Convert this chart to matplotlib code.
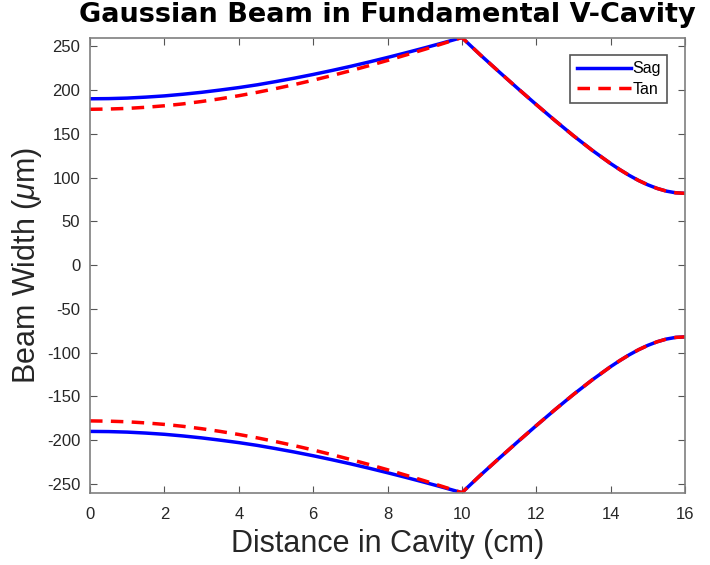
import matplotlib
matplotlib.use("Agg")
import matplotlib.pyplot as plt
import numpy as np

# beam radius (um) along the cavity, sampled at positions in cm
dist = [0, 0.5, 1, 1.5, 2, 2.5, 3, 3.5, 4, 4.5, 5, 5.5, 6, 6.5, 7, 7.5,
        8, 8.5, 9, 9.5, 10, 10.5, 11, 11.5, 12, 12.5, 13, 13.5, 14,
        14.25, 14.5, 14.75, 15, 15.25, 15.5, 15.75, 16]
sag = [190, 190.2, 190.8, 191.9, 193.3, 195.2, 197.4, 200, 202.8, 206,
       209.7, 213.6, 217.8, 222.3, 227, 232, 237.2, 242.6, 248.2, 254,
       260, 240, 220.8, 201.9, 183.4, 165.3, 147.8, 131.3, 116,
       109, 102.5, 96.7, 91.7, 87.6, 84.5, 82.6, 82]
tan = [178, 178.3, 179, 180.3, 182, 184.2, 186.9, 190, 193.5, 197.4,
       201.7, 206.3, 211.2, 216.5, 222, 227.8, 233.8, 240.1, 246.5, 253.2,
       260, 240, 220.8, 201.9, 183.4, 165.3, 147.8, 131.3, 116,
       109, 102.5, 96.7, 91.7, 87.6, 84.5, 82.6, 82]

x_ticks = [0, 2, 4, 6, 8, 10, 12, 14, 16]
y_ticks = [-250, -200, -150, -100, -50, 0, 50, 100, 150, 200, 250]

plt.rcParams['font.family'] = ['Liberation Sans', 'DejaVu Sans']
plt.rcParams['axes.unicode_minus'] = False
plt.rcParams['mathtext.fontset'] = 'custom'
plt.rcParams['mathtext.rm'] = 'Liberation Sans'
plt.rcParams['mathtext.it'] = 'Liberation Sans:italic'

fig = plt.figure(figsize=(7.1, 5.65), dpi=100)
ax = fig.add_axes([0.1268, 0.128, 0.838, 0.8056])

x = np.array(dist)
s = np.array(sag)
t = np.array(tan)

# upper and lower edges of the beam
ax.plot(x, s, color='blue', lw=2.5, label='Sag')
ax.plot(x, t, color='red', lw=2.5, dashes=(3.6, 2.4), label='Tan')
ax.plot(x, -s, color='blue', lw=2.5)
ax.plot(x, -t, color='red', lw=2.5, dashes=(3.6, 2.4))

ax.set_xlim(0, 16)
ax.set_ylim(-260, 260)
ax.set_xticks(x_ticks)
ax.set_yticks(y_ticks)
ax.tick_params(direction='in', top=True, right=True, length=5, width=0.8,
               color='#555555', labelsize=12, labelcolor='#262626')
ax.tick_params(axis='x', pad=10)
ax.tick_params(axis='y', pad=7)
for sp in ax.spines.values():
    sp.set_color('#7f7f7f')
    sp.set_linewidth(1.2)

ax.set_title('Gaussian Beam in Fundamental V-Cavity', fontsize=19.5,
             fontweight='bold', family='DejaVu Sans', pad=11)
ax.set_xlabel('Distance in Cavity (cm)', fontsize=22, labelpad=5,
              color='#262626')
ax.set_ylabel(r'Beam Width ($\mu$m)', fontsize=22, labelpad=2,
              color='#262626')

leg = ax.legend(loc='upper right', fontsize=11.5, fancybox=False, framealpha=1,
                edgecolor='#555555', handlelength=3.4, handletextpad=0.1,
                borderpad=0.4, labelspacing=0.35, borderaxespad=1.1)
leg.get_frame().set_linewidth(1.2)

fig.savefig('out.png', dpi=100, facecolor='white')
